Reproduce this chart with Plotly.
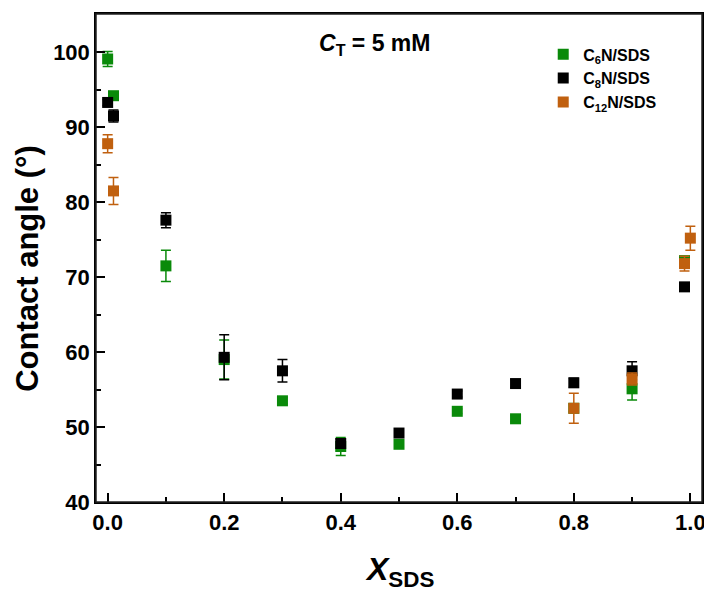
import plotly.graph_objects as go

# Data
x_c6 = [0, 0.01, 0.1, 0.2, 0.3, 0.4, 0.5, 0.6, 0.7, 0.8, 0.9, 0.99]
y_c6 = [99.1, 94.2, 71.5, 59.0, 53.5, 47.4, 47.7, 52.1, 51.1, 52.5, 55.1, 72.2]
e_c6 = [1.0, 0.5, 2.1, 2.6, 0.4, 1.2, 0.3, 0.3, 0.4, 0.5, 1.5, 0.5]

x_c8 = [0, 0.01, 0.1, 0.2, 0.3, 0.4, 0.5, 0.6, 0.7, 0.8, 0.9, 0.99]
y_c8 = [93.3, 91.5, 77.6, 59.3, 57.5, 47.8, 49.2, 54.4, 55.8, 55.9, 57.5, 68.7]
e_c8 = [0.4, 0.8, 1.0, 3.0, 1.5, 0.6, 0.5, 0.4, 0.5, 0.6, 1.2, 0.3]

x_c12 = [0, 0.01, 0.8, 0.9, 0.99, 1.0]
y_c12 = [87.8, 81.5, 52.5, 56.4, 71.8, 75.2]
e_c12 = [1.2, 1.8, 2.0, 0.8, 1.0, 1.6]

names = ["C<sub>6</sub>N/SDS", "C<sub>8</sub>N/SDS", "C<sub>12</sub>N/SDS"]
colors = ["#0a8a0a", "#000000", "#c0600f"]
x_ticks = [0.0, 0.2, 0.4, 0.6, 0.8, 1.0]
x_tick_text = ["0.0", "0.2", "0.4", "0.6", "0.8", "1.0"]
y_ticks = [40, 50, 60, 70, 80, 90, 100]

FONT = "Liberation Sans, Arial, sans-serif"

fig = go.Figure()
for i, (xs, ys, es, nm, col) in enumerate([(x_c6, y_c6, e_c6, names[0], colors[0]),
                                           (x_c8, y_c8, e_c8, names[1], colors[1]),
                                           (x_c12, y_c12, e_c12, names[2], colors[2])]):
    fig.add_trace(go.Scatter(
        x=xs, y=ys, mode="markers", name=nm, legendgroup="g%d" % i,
        marker=dict(symbol="square", size=11, color=col, line=dict(width=0)),
        error_y=dict(type="data", array=es, visible=True, color=col,
                     thickness=1.5, width=5),
    ))

# page body has an 8px margin, so margins are shifted by 8 px
fig.update_layout(
    width=704, height=584,
    margin=dict(l=88, r=10, t=6, b=90),
    paper_bgcolor="white", plot_bgcolor="white",
    font=dict(family=FONT, color="black"),
    showlegend=True,
    legend=dict(x=0.738, y=0.952, xanchor="left", yanchor="top",
                font=dict(family=FONT, size=16, color="black", weight="bold"),
                bgcolor="rgba(0,0,0,0)", tracegroupgap=0, itemwidth=30),
    xaxis=dict(range=[-0.02, 1.02], tickvals=x_ticks, ticktext=x_tick_text,
               automargin=False,
               ticks="inside", ticklen=9, tickwidth=1.5, tickcolor="black",
               minor=dict(dtick=0.1, ticks="inside", ticklen=5, tickwidth=1.5, tickcolor="black"),
               showline=True, linecolor="black", linewidth=1.5, mirror=True,
               showgrid=False, zeroline=False,
               tickfont=dict(family=FONT, size=22, color="black", weight="bold")),
    yaxis=dict(range=[40, 105.1], tickvals=y_ticks,
               automargin=False,
               ticks="inside", ticklen=9, tickwidth=1.5, tickcolor="black",
               minor=dict(dtick=5, ticks="inside", ticklen=5, tickwidth=1.5, tickcolor="black"),
               showline=True, linecolor="black", linewidth=1.5, mirror=True,
               showgrid=False, zeroline=False,
               tickfont=dict(family=FONT, size=22, color="black", weight="bold")),
)

fig.add_shape(type="rect", xref="x domain", yref="y domain", x0=0, y0=0, x1=1, y1=1,
              line=dict(color="#222222", width=1.5), fillcolor="rgba(0,0,0,0)", layer="above")

fig.add_annotation(text="<i>C</i><sub>T</sub> = 5 mM", xref="paper", yref="paper",
                   x=0.459, y=0.971, showarrow=False,
                   font=dict(family=FONT, size=23, color="black", weight="bold"))

fig.add_annotation(text="<i>X</i><sub>SDS</sub>", xref="paper", yref="paper",
                   x=0.5, y=-0.096, yanchor="top", showarrow=False,
                   font=dict(family=FONT, size=32, color="black", weight="bold"))

fig.add_annotation(text="Contact angle (°)", xref="paper", yref="paper",
                   x=-0.112, y=0.478, xanchor="center", yanchor="middle", textangle=-90,
                   showarrow=False,
                   font=dict(family=FONT, size=31, color="black", weight="bold"))

fig.write_html("out.html")
